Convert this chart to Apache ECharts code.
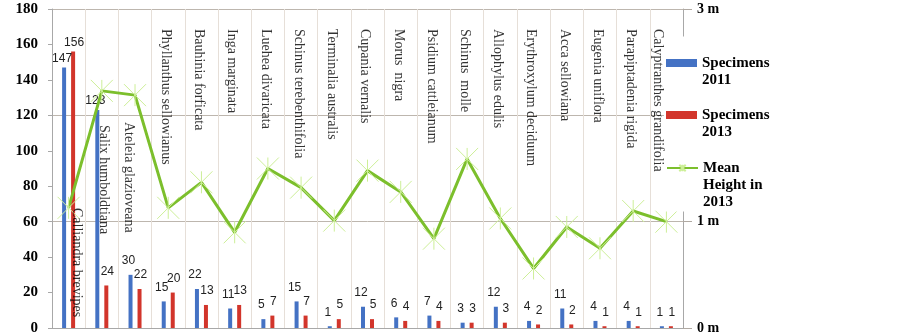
<!DOCTYPE html>
<html><head><meta charset="utf-8">
<script src="https://cdn.jsdelivr.net/npm/echarts@6/dist/echarts.min.js"></script>
<style>html,body{margin:0;padding:0;background:#fff}#c{width:902px;height:336px}</style>
</head><body><div id="c"></div>
<script>
// ---- data ----
const species = ['Calliandra brevipes','Salix humboldtiana','Ateleia glazioveana','Phyllanthus sellowianus','Bauhinia forficata','Inga marginata','Luehea divaricata','Schinus terebenthifolia','Terminalia australis','Cupania vernalis','Morus  nigra','Psidium cattleianum','Schinus  molle','Allophylus edulis','Erythroxylum deciduum','Acca sellowiana','Eugenia uniflora','Parapiptadenia rigida','Calyptranthes grandifolia'];
const specimens2011 = [147,123,30,15,22,11,5,15,1,12,6,7,3,12,4,11,4,4,1];
const specimens2013 = [156,24,22,20,13,13,7,7,5,5,4,4,3,3,2,2,1,1,1];
const meanHeight2013 = [1.13,2.23,2.19,1.13,1.37,0.90,1.50,1.32,1.01,1.48,1.28,0.84,1.59,1.03,0.56,0.95,0.75,1.10,1.00];
const countAxis = {min:0, max:180, interval:20};
const heightAxis = {min:0, max:3, interval:1, unit:'m'};
const legendNames = ['Specimens 2011','Specimens 2013','Mean Height in 2013'];
const legendLines = [['Specimens','2011'],['Specimens','2013'],['Mean','Height in','2013']];

// ---- layout helpers (pixels, not data) ----
const labelDrop = {0:179, 1:96, 2:93};          // extra downward shift of some species labels
const labelShift = {0:8, 1:2, 2:-6, 18:-9};     // horizontal shift of species labels (default -2.5)
const serif = 'Liberation Serif';

const chart = echarts.init(document.getElementById('c'), null, {renderer:'canvas'});

function legendBlock(idx, iconY){
  const lines = legendLines[idx];
  const n = lines.length;
  // pad with empty lines on top so the first line sits level with the icon
  const text = new Array(n-1).fill('').concat(lines).join('\n');
  const half = (2*n-1)*17/2;
  const b = {
    data:[legendNames[idx]], orient:'vertical', left:664, top:iconY - half - 1,
    itemWidth:31, itemHeight:8, padding:[1,4,1,2], backgroundColor:'#fff',
    selectedMode:false,
    formatter: () => text,
    textStyle:{fontFamily:serif, fontWeight:'bold', fontSize:15, lineHeight:17, color:'#000'}
  };
  if (idx < 2) b.icon = 'rect';
  return b;
}
const leg = [legendBlock(0, 63), legendBlock(1, 115), legendBlock(2, 168)];

const barLabel = {show:true, position:'top', fontFamily:'Liberation Sans', fontSize:12, color:'#222'};

chart.setOption({
  animation:false,
  backgroundColor:'#fff',
  grid:{left:52, right:219, top:9, bottom:8, containLabel:false},
  legend: leg,
  xAxis:{
    type:'category', data:species, boundaryGap:true,
    axisLine:{show:true, lineStyle:{color:'#a8a8a8'}},
    axisTick:{show:false}, axisLabel:{show:false, interval:0},
    splitLine:{show:true, interval:0, lineStyle:{color:'#e6dfd8', width:1}}
  },
  yAxis:[
    {type:'value', min:countAxis.min, max:countAxis.max, interval:countAxis.interval,
     axisLine:{show:true, lineStyle:{color:'#a8a8a8'}},
     axisTick:{show:true, length:4, lineStyle:{color:'#a8a8a8'}},
     splitLine:{show:false},
     axisLabel:{fontFamily:serif, fontWeight:'bold', fontSize:15, color:'#000', margin:14}},
    {type:'value', min:heightAxis.min, max:heightAxis.max, interval:heightAxis.interval, position:'right',
     axisLine:{show:true, lineStyle:{color:'#a8a8a8'}},
     axisTick:{show:true, length:9, lineStyle:{color:'#b0a9a2'}},
     splitLine:{show:true, lineStyle:{color:'#bdb6ae', width:1}},
     axisLabel:{fontFamily:serif, fontWeight:'bold', fontSize:14, color:'#000', margin:14,
       formatter: v => v + ' ' + heightAxis.unit}}
  ],
  series:[
    {name:legendNames[0], type:'bar', barWidth:4, barGap:'125%',
     itemStyle:{color:'#4472c4'},
     label:Object.assign({offset:[-2,0]}, barLabel),
     data: specimens2011.map(v => ({value:v, label:{distance: v>100 ? 3 : 8}}))},
    {name:legendNames[1], type:'bar', barWidth:4, barGap:'125%',
     itemStyle:{color:'#d2352b'},
     label:Object.assign({offset:[1,0]}, barLabel),
     data: specimens2013.map(v => ({value:v, label:{distance: v>100 ? 3 : 8}}))},
    {name:legendNames[2], type:'line', yAxisIndex:1, data:meanHeight2013,
     symbol:'path://M0,0L20,20M20,0L0,20M10,0L10,20', symbolSize:22,
     lineStyle:{color:'#7cbf2c', width:3},
     itemStyle:{color:'rgba(0,0,0,0)', borderColor:'#cdef98', borderWidth:1},
     emphasis:{disabled:true}, z:3},
    {name:'species labels', type:'scatter', silent:true, symbolSize:0, z:5,
     data: species.map((s,i) => ({value:[i, countAxis.max],
        // label is rotated -90deg, so offset [down, left]
        label:{offset:[20 + (labelDrop[i]||0), -(labelShift[i] !== undefined ? labelShift[i] : -2.5)]}})),
     label:{show:true, position:'inside', rotate:-90, align:'left', verticalAlign:'middle',
       fontFamily:serif, fontSize:14, color:'#000',
       formatter: p => species[p.dataIndex]}}
  ]
});
</script>
</body></html>
